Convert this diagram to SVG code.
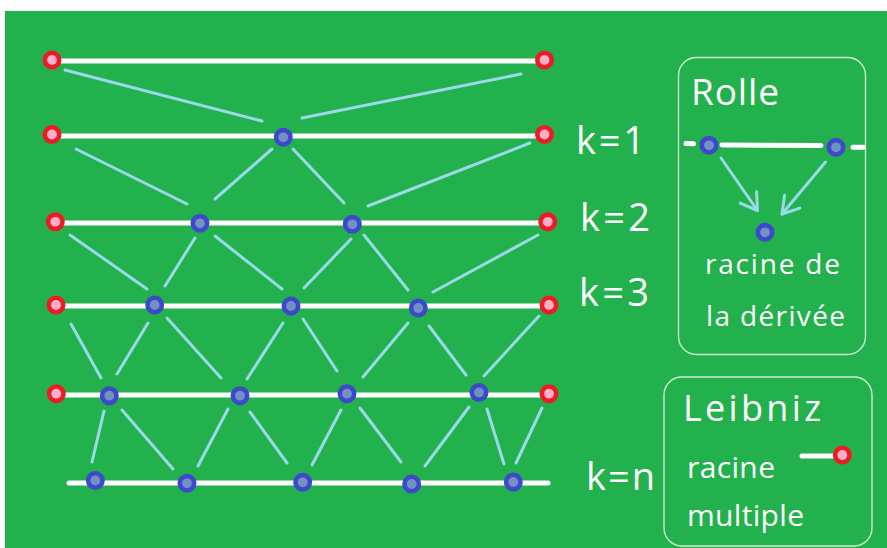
<svg xmlns="http://www.w3.org/2000/svg" width="887" height="548" viewBox="0 0 887 548">
<defs>
<style>
.row{stroke:#ffffff;stroke-width:5;stroke-linecap:round;fill:none}
.red{fill:#FFAEC9;stroke:#ED1C24;stroke-width:4.6}
.blue{fill:#7092BE;stroke:#3F48CC;stroke-width:4.6}
.con{stroke:#99D9EA;stroke-width:3;stroke-linecap:round;fill:none}
.box{fill:none;stroke:#d8eed8;stroke-width:1.3}
.t{fill:#ffffff;font-family:"Open Sans","Noto Sans",sans-serif}
.k{font-size:38px}
</style>
<marker id="arr" viewBox="-18 -12 20 24" refX="0" refY="0" markerWidth="20" markerHeight="24" markerUnits="userSpaceOnUse" orient="auto" overflow="visible">
<path d="M-16,-10 L0,0 L-16,10" fill="none" stroke="#99D9EA" stroke-width="3" stroke-linecap="round" stroke-linejoin="round"/>
</marker>
</defs>
<rect x="0" y="0" width="887" height="548" fill="#ffffff"/>
<rect x="5" y="11" width="882" height="537" fill="#22B14C"/>

<g id="rows">
<line class="row" x1="52" y1="61" x2="544" y2="61"/>
<line class="row" x1="52" y1="136" x2="544" y2="136"/>
<line class="row" x1="55" y1="223" x2="547" y2="223"/>
<line class="row" x1="56" y1="306" x2="549" y2="306"/>
<line class="row" x1="56" y1="395" x2="548" y2="395"/>
<line class="row" x1="69" y1="483" x2="548" y2="483"/>
</g>

<g id="connectors">
<line class="con" x1="65" y1="70" x2="262" y2="121"/>
<line class="con" x1="302" y1="118" x2="521" y2="74"/>
<line class="con" x1="76" y1="149" x2="187" y2="204"/>
<line class="con" x1="215" y1="199" x2="272" y2="149"/>
<line class="con" x1="293" y1="149" x2="344" y2="203"/>
<line class="con" x1="368" y1="206" x2="530" y2="143"/>
<line class="con" x1="70" y1="235" x2="147" y2="289"/>
<line class="con" x1="165" y1="286" x2="195" y2="238"/>
<line class="con" x1="215" y1="236" x2="282" y2="289"/>
<line class="con" x1="304" y1="288" x2="351" y2="239"/>
<line class="con" x1="364" y1="235" x2="408" y2="290"/>
<line class="con" x1="433" y1="292" x2="538" y2="235"/>
<line class="con" x1="71" y1="324" x2="101" y2="378"/>
<line class="con" x1="117" y1="374" x2="148" y2="323"/>
<line class="con" x1="167" y1="318" x2="221" y2="378"/>
<line class="con" x1="247" y1="379" x2="283" y2="323"/>
<line class="con" x1="303" y1="319" x2="337" y2="371"/>
<line class="con" x1="363" y1="377" x2="408" y2="323"/>
<line class="con" x1="429" y1="326" x2="466" y2="375"/>
<line class="con" x1="484" y1="376" x2="539" y2="316"/>
<line class="con" x1="104" y1="411" x2="92" y2="462"/>
<line class="con" x1="122" y1="410" x2="173" y2="469"/>
<line class="con" x1="198" y1="466" x2="228" y2="409"/>
<line class="con" x1="250" y1="412" x2="287" y2="463"/>
<line class="con" x1="312" y1="465" x2="341" y2="410"/>
<line class="con" x1="360" y1="408" x2="401" y2="462"/>
<line class="con" x1="425" y1="466" x2="469" y2="407"/>
<line class="con" x1="487" y1="409" x2="504" y2="464"/>
<line class="con" x1="516" y1="463" x2="542" y2="408"/>
</g>

<g id="n0a"><circle class="red" cx="52" cy="60" r="7.2"/></g>
<g id="n0b"><circle class="red" cx="544.5" cy="60" r="7.2"/></g>
<g id="n1a"><circle class="red" cx="52" cy="134.5" r="7.2"/></g>
<g id="n1b"><circle class="blue" cx="283.3" cy="137.3" r="7.2"/></g>
<g id="n1c"><circle class="red" cx="544.5" cy="134.5" r="7.2"/></g>
<g id="n2a"><circle class="red" cx="55.3" cy="221.8" r="7.2"/></g>
<g id="n2b"><circle class="blue" cx="200" cy="223.3" r="7.2"/></g>
<g id="n2c"><circle class="blue" cx="352.3" cy="224.3" r="7.2"/></g>
<g id="n2d"><circle class="red" cx="547.7" cy="221.8" r="7.2"/></g>
<g id="n3a"><circle class="red" cx="56" cy="305" r="7.2"/></g>
<g id="n3b"><circle class="blue" cx="154.7" cy="305" r="7.2"/></g>
<g id="n3c"><circle class="blue" cx="291" cy="306" r="7.2"/></g>
<g id="n3d"><circle class="blue" cx="418.3" cy="308" r="7.2"/></g>
<g id="n3e"><circle class="red" cx="549" cy="305" r="7.2"/></g>
<g id="n4a"><circle class="red" cx="56.3" cy="393.7" r="7.2"/></g>
<g id="n4b"><circle class="blue" cx="109.3" cy="395.7" r="7.2"/></g>
<g id="n4c"><circle class="blue" cx="240" cy="395.7" r="7.2"/></g>
<g id="n4d"><circle class="blue" cx="347" cy="393.7" r="7.2"/></g>
<g id="n4e"><circle class="blue" cx="479" cy="392.5" r="7.2"/></g>
<g id="n4f"><circle class="red" cx="549" cy="393.7" r="7.2"/></g>
<g id="n5a"><circle class="blue" cx="95.3" cy="480.5" r="7.2"/></g>
<g id="n5b"><circle class="blue" cx="187" cy="483.3" r="7.2"/></g>
<g id="n5c"><circle class="blue" cx="302.7" cy="482.3" r="7.2"/></g>
<g id="n5d"><circle class="blue" cx="411.7" cy="484" r="7.2"/></g>
<g id="n5e"><circle class="blue" cx="513.3" cy="482" r="7.2"/></g>

<g id="labels">
<text class="t k" x="576" y="154" textLength="69">k=1</text>
<text class="t k" x="580" y="231" textLength="70">k=2</text>
<text class="t k" x="579" y="306" textLength="70">k=3</text>
<text class="t k" x="586" y="490" textLength="69">k=n</text>
</g>

<g id="rolle">
<rect class="box" x="678.5" y="57.5" width="187" height="297" rx="18"/>
<text class="t" x="691" y="105" font-size="37" textLength="88">Rolle</text>
<line class="row" x1="686" y1="143.5" x2="693.5" y2="143.8"/>
<line class="row" x1="722" y1="145" x2="821" y2="145.5"/>
<line class="row" x1="853" y1="147.3" x2="863.5" y2="147.3"/>
<circle class="blue" cx="709" cy="145.3" r="7.2"/>
<circle class="blue" cx="836" cy="147.3" r="7.2"/>
<circle class="blue" cx="765" cy="232.3" r="7.2"/>
<line class="con" x1="721" y1="158" x2="757.5" y2="210.5" marker-end="url(#arr)"/>
<line class="con" x1="825.5" y1="162" x2="782" y2="214" marker-end="url(#arr)"/>
<text class="t" x="705" y="274" font-size="28" textLength="135">racine de</text>
<text class="t" x="706" y="326" font-size="28" textLength="139">la dérivée</text>
</g>

<g id="leibniz">
<rect class="box" x="664" y="377" width="208" height="169" rx="18"/>
<text class="t" x="683" y="420.5" font-size="36" textLength="138">Leibniz</text>
<line class="row" x1="802" y1="456" x2="838" y2="456"/>
<circle class="red" cx="842.3" cy="455" r="7.2"/>
<text class="t" x="687" y="478" font-size="30" textLength="88">racine</text>
<text class="t" x="687" y="526" font-size="30" textLength="117">multiple</text>
</g>
</svg>
